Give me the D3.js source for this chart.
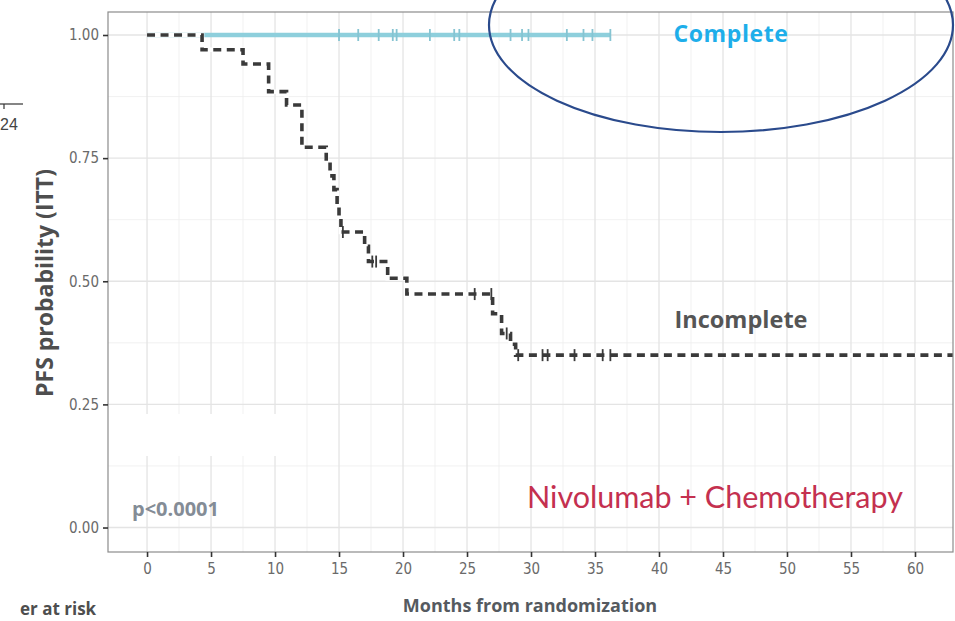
<!DOCTYPE html>
<html>
<head>
<meta charset="utf-8">
<script src="https://cdn.jsdelivr.net/npm/d3@7"></script>
<style>
  html, body { margin: 0; padding: 0; background: #fff; }
  svg { display: block; }
</style>
</head>
<body>
<svg id="chart" width="955" height="621"></svg>
<script>
// Kaplan-Meier PFS curves, Nivolumab + Chemotherapy, by response group

// Axis ticks
const xTicks = [0, 5, 10, 15, 20, 25, 30, 35, 40, 45, 50, 55, 60];
const yTicks = [0, 0.25, 0.5, 0.75, 1];
const yTickLabels = ["0.00", "0.25", "0.50", "0.75", "1.00"];

// "Complete" group: no progression events, censored follow-up
const completeTimes = [0];
const completeSurv = [1.0];
const completeCensor = [15.0, 16.5, 18.1, 19.2, 19.5, 22.1, 24.0, 24.4, 28.4, 29.3, 29.8, 32.8, 34.1, 34.8, 36.2];

// "Incomplete" group: step times and survival estimates
const incompleteTimes = [0, 4.3, 7.5, 9.5, 10.9, 12.1, 14.0, 14.3, 14.6, 14.85, 15.0, 15.15, 17.0, 17.3, 18.8, 20.3, 27.0, 27.7, 28.4, 28.8];
const incompleteSurv = [1.0, 0.970, 0.941, 0.885, 0.858, 0.772, 0.743, 0.714, 0.686, 0.657, 0.629, 0.600, 0.571, 0.540, 0.506, 0.474, 0.434, 0.394, 0.372, 0.350];
const incompleteCensor = [15.3, 17.6, 17.9, 25.6, 26.9, 28.1, 29.0, 30.9, 31.3, 33.4, 35.6, 36.2];

const svg = d3.select("#chart");
const panel = { left: 108, top: 12, right: 953, bottom: 552 };

const x = d3.scaleLinear().domain([-3.05, 62.97]).range([panel.left, panel.right]);
const y = d3.scaleLinear().domain([-0.0497, 1.0467]).range([panel.bottom, panel.top]);

// step-function lookup for censor marks
function survAt(times, surv, t) {
  let s = surv[0];
  for (let i = 0; i < times.length; i++) if (times[i] <= t) s = surv[i];
  return s;
}

// ---- grid ----
const grid = svg.append("g");
const xMinor = d3.range(2.5, 60, 5);
const yMinor = [0.125, 0.375, 0.625, 0.875];
grid.selectAll("line.xmin").data(xMinor).join("line")
  .attr("x1", d => x(d)).attr("x2", d => x(d))
  .attr("y1", panel.top).attr("y2", panel.bottom)
  .attr("stroke", "#eeeeee").attr("stroke-width", 0.8);
grid.selectAll("line.ymin").data(yMinor).join("line")
  .attr("x1", panel.left).attr("x2", panel.right)
  .attr("y1", d => y(d)).attr("y2", d => y(d))
  .attr("stroke", "#eeeeee").attr("stroke-width", 0.8);
grid.selectAll("line.xmaj").data(xTicks).join("line")
  .attr("x1", d => x(d)).attr("x2", d => x(d))
  .attr("y1", panel.top).attr("y2", panel.bottom)
  .attr("stroke", "#e4e4e4").attr("stroke-width", 1.3);
grid.selectAll("line.ymaj").data(yTicks).join("line")
  .attr("x1", panel.left).attr("x2", panel.right)
  .attr("y1", d => y(d)).attr("y2", d => y(d))
  .attr("stroke", "#e4e4e4").attr("stroke-width", 1.3);

// blank patch over the grid near the lower left
svg.append("rect")
  .attr("x", panel.left + 1).attr("y", 414)
  .attr("width", 172).attr("height", 42)
  .attr("fill", "#ffffff");

// ---- curves ----
svg.append("clipPath").attr("id", "clip")
  .append("rect")
  .attr("x", panel.left).attr("y", panel.top)
  .attr("width", panel.right - panel.left).attr("height", panel.bottom - panel.top);

const plot = svg.append("g").attr("clip-path", "url(#clip)");
const stepLine = d3.line().x(d => x(d[0])).y(d => y(d[1])).curve(d3.curveStepAfter);

// Complete curve runs to its last follow-up time
const compPts = completeTimes.map((t, i) => [t, completeSurv[i]]);
compPts.push([d3.max(completeCensor), completeSurv[completeSurv.length - 1]]);
plot.append("path")
  .attr("d", stepLine(compPts))
  .attr("fill", "none")
  .attr("stroke", "#8ecfdc")
  .attr("stroke-width", 4.5);

plot.selectAll("line.ccens").data(completeCensor).join("line")
  .attr("x1", d => x(d)).attr("x2", d => x(d))
  .attr("y1", d => y(survAt(completeTimes, completeSurv, d)) - 6)
  .attr("y2", d => y(survAt(completeTimes, completeSurv, d)) + 6)
  .attr("stroke", "#86c4d2").attr("stroke-width", 1.8);

// Incomplete curve extends to the end of the axis
const incPts = incompleteTimes.map((t, i) => [t, incompleteSurv[i]]);
incPts.push([x.domain()[1] + 1, incompleteSurv[incompleteSurv.length - 1]]);
plot.append("path")
  .attr("d", stepLine(incPts))
  .attr("fill", "none")
  .attr("stroke", "#ffffff")
  .attr("stroke-width", 4.5);
plot.append("path")
  .attr("d", stepLine(incPts))
  .attr("fill", "none")
  .attr("stroke", "#3a3a3a")
  .attr("stroke-width", 3.6)
  .attr("stroke-dasharray", "8,5.5");

plot.selectAll("line.icens").data(incompleteCensor).join("line")
  .attr("x1", d => x(d)).attr("x2", d => x(d))
  .attr("y1", d => y(survAt(incompleteTimes, incompleteSurv, d)) - 6)
  .attr("y2", d => y(survAt(incompleteTimes, incompleteSurv, d)) + 6)
  .attr("stroke", "#3a3a3a").attr("stroke-width", 1.8);

// ---- panel border ----
svg.append("rect")
  .attr("x", panel.left).attr("y", panel.top)
  .attr("width", panel.right - panel.left).attr("height", panel.bottom - panel.top)
  .attr("fill", "none").attr("stroke", "#8c8c8c").attr("stroke-width", 1.2);

// ---- axes ----
const tickFont = "'DejaVu Sans', sans-serif";

const yAxis = svg.append("g")
  .attr("transform", `translate(${panel.left},0)`)
  .call(d3.axisLeft(y).tickValues(yTicks).tickFormat((d, i) => yTickLabels[i]).tickSize(5).tickPadding(4));
yAxis.select(".domain").remove();
yAxis.selectAll(".tick line").attr("stroke", "#333").attr("stroke-width", 1.6);
yAxis.selectAll(".tick text")
  .attr("fill", "#6a6a6a")
  .style("font-family", tickFont)
  .style("font-stretch", "condensed")
  .style("font-size", "15px");

const xAxis = svg.append("g")
  .attr("transform", `translate(0,${panel.bottom})`)
  .call(d3.axisBottom(x).tickValues(xTicks).tickFormat(d3.format("d")).tickSize(5).tickPadding(6));
xAxis.select(".domain").remove();
xAxis.selectAll(".tick line").attr("stroke", "#333").attr("stroke-width", 1.6);
xAxis.selectAll(".tick text")
  .attr("fill", "#6a6a6a")
  .style("font-family", tickFont)
  .style("font-stretch", "condensed")
  .style("font-size", "15px");

// ---- titles ----
const uiFont = "'Open Sans', 'Noto Sans', sans-serif";

svg.append("text")
  .attr("transform", "translate(53,283) rotate(-90)")
  .attr("text-anchor", "middle")
  .attr("fill", "#4e4e4e")
  .style("font-family", uiFont)
  .style("font-weight", 700)
  .style("font-size", "23px")
  .text("PFS probability (ITT)");

svg.append("text")
  .attr("x", 530).attr("y", 612)
  .attr("text-anchor", "middle")
  .attr("fill", "#555a60")
  .style("font-family", uiFont)
  .style("font-weight", 700)
  .style("font-size", "18px")
  .text("Months from randomization");

svg.append("text")
  .attr("x", 20).attr("y", 615)
  .attr("fill", "#4e4e4e")
  .style("font-family", uiFont)
  .style("font-weight", 700)
  .style("font-size", "17px")
  .text("er at risk");

// leftover axis fragment at the upper left
svg.append("line").attr("x1", 0).attr("x2", 23).attr("y1", 104).attr("y2", 104)
  .attr("stroke", "#333").attr("stroke-width", 1.2);
svg.append("line").attr("x1", 4).attr("x2", 4).attr("y1", 104).attr("y2", 109)
  .attr("stroke", "#333").attr("stroke-width", 1.2);
svg.append("text")
  .attr("x", 0).attr("y", 130)
  .attr("fill", "#444")
  .style("font-family", "'Liberation Sans', sans-serif")
  .style("font-size", "16px")
  .text("24");

// ---- annotations ----
svg.append("text")
  .attr("x", 731).attr("y", 42)
  .attr("text-anchor", "middle")
  .attr("fill", "#1eaeea")
  .style("font-family", uiFont)
  .style("font-weight", 700)
  .style("font-size", "23px")
  .style("letter-spacing", "0.6px")
  .text("Complete");

svg.append("text")
  .attr("x", 741).attr("y", 328)
  .attr("text-anchor", "middle")
  .attr("fill", "#555")
  .style("font-family", uiFont)
  .style("font-weight", 700)
  .style("font-size", "23.5px")
  .text("Incomplete");

svg.append("text")
  .attr("x", 527).attr("y", 508)
  .attr("fill", "#c4304f")
  .style("font-family", "Lato, 'Open Sans', sans-serif")
  .style("font-size", "30.5px")
  .text("Nivolumab + Chemotherapy");

svg.append("text")
  .attr("x", 132).attr("y", 516)
  .attr("fill", "#848c96")
  .style("font-family", uiFont)
  .style("font-weight", 700)
  .style("font-size", "20px")
  .text("p<0.0001");

// highlight ellipse around the Complete curve label
svg.append("ellipse")
  .attr("cx", 721).attr("cy", 25)
  .attr("rx", 232).attr("ry", 107)
  .attr("fill", "none")
  .attr("stroke", "#2a4a8c")
  .attr("stroke-width", 2.2);
</script>
</body>
</html>
